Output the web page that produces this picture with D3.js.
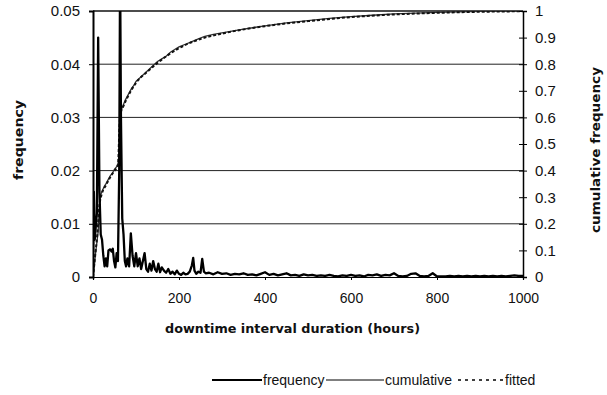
<!DOCTYPE html>
<html>
<head>
<meta charset="utf-8">
<script src="https://cdn.jsdelivr.net/npm/d3@7"></script>
<style>
    body { margin: 0; background: #fff; }
    svg { display: block; }
    .tick text { font-family: "Liberation Sans", Arial, sans-serif; font-size: 15px; fill: #111; }
    .title { font-family: "DejaVu Sans", sans-serif; font-weight: bold; font-size: 13px; fill: #111; }
    .legend { font-family: "Liberation Sans", Arial, sans-serif; font-size: 14px; fill: #111; }
</style>
</head>
<body>
<svg id="chart"></svg>
<script>

// Frequency histogram (hours, frequency)
const freqHours = [0, 2, 4, 6, 9, 12, 15, 18, 21, 24, 27, 30, 33, 36, 40, 43, 46, 49, 52, 55, 58, 61, 63, 65, 68, 71, 74, 77, 80, 84,
    88, 92, 96, 100, 104, 108, 112, 116, 120, 124, 128, 132, 136, 140, 144, 148, 152, 156, 160, 165, 170, 175, 180, 185, 190, 195,
    200, 205, 210, 215, 220, 225, 230, 233, 236, 240, 245, 250, 254, 258, 262,
    270, 280, 290, 300, 310, 320, 330, 340, 350, 360, 370, 380, 390, 400, 410, 420, 430, 440, 450, 460, 470, 480, 490, 500,
    510, 520, 530, 540, 550, 560, 570, 580, 590, 600, 610, 620, 630, 640, 650, 660, 670, 680, 690, 700, 710, 720, 730, 740, 750,
    760, 770, 780, 790, 800, 810, 820, 830, 840, 850, 860, 870, 880, 890, 900, 910, 920, 930, 940, 950, 960, 970, 980, 990, 1000];
const freqValues = [0.004, 0.016, 0.007, 0.009, 0.012, 0.045, 0.016, 0.008, 0.007, 0.004, 0.002, 0.0035, 0.002, 0.005, 0.0052, 0.0048, 0.0053, 0.003, 0.0018, 0.0045, 0.003, 0.02, 0.058, 0.03, 0.011, 0.008, 0.003, 0.002, 0.0035, 0.002,
    0.0082, 0.004, 0.002, 0.0045, 0.002, 0.0035, 0.0015, 0.003, 0.0045, 0.0015, 0.001, 0.0025, 0.0012, 0.003, 0.0015, 0.001, 0.0025, 0.0009, 0.0018, 0.0012, 0.0008, 0.0015, 0.0006, 0.001, 0.0005, 0.0012,
    0.0006, 0.0004, 0.0008, 0.0005, 0.0006, 0.001, 0.0022, 0.0036, 0.0012, 0.0006, 0.001, 0.0008, 0.0034, 0.001, 0.0007,
    0.0008, 0.0005, 0.0009, 0.0006, 0.0007, 0.0004, 0.0006, 0.0005, 0.0007, 0.0004, 0.0005, 0.0003, 0.0006, 0.0009, 0.0004, 0.0006, 0.0003, 0.0005, 0.0007, 0.0003, 0.0004, 0.0002, 0.0005, 0.0003,
    0.0004, 0.0002, 0.0003, 0.0002, 0.0004, 0.0002, 0.0001, 0.0003, 0.0002, 0.0004, 0.0002, 0.0003, 0.0001, 0.0004, 0.0003, 0.0005, 0.0002, 0.0004, 0.0003, 0.0007, 0.0002, 0.0001, 0.0002, 0.0006, 0.0007,
    0.0002, 0.0001, 0.0002, 0.0007, 0.0001, 0.0001, 0.0001, 0.0002, 0.0001, 0.0002, 0.0001, 0.0002, 0.0001, 0.0002, 0.0001, 0.0002, 0.0001, 0.0002, 0.0001, 0.0002, 0.0001, 0.0002, 0.0003, 0.0002, 0.0002];

// Cumulative frequency (right axis)
const cumHours = [0, 3, 6, 9, 12, 14, 16, 18, 22, 26, 30, 35, 40, 45, 50, 55, 59, 61, 63, 66, 70, 75, 80, 85, 90, 95, 100,
    110, 120, 130, 140, 150, 160, 170, 180, 190, 200, 215, 230, 245, 260, 280, 300, 350, 400, 450, 500, 550, 600, 650, 700,
    750, 800, 850, 900, 950, 1000];
const cumValues = [0, 0.04, 0.09, 0.13, 0.17, 0.24, 0.29, 0.31, 0.325, 0.34, 0.35, 0.365, 0.38, 0.39, 0.405, 0.415, 0.43, 0.5, 0.6, 0.63, 0.645, 0.665, 0.68, 0.695, 0.71, 0.72, 0.735,
    0.75, 0.765, 0.78, 0.795, 0.81, 0.82, 0.83, 0.845, 0.855, 0.865, 0.875, 0.885, 0.895, 0.905, 0.912, 0.918, 0.932, 0.944, 0.955, 0.964, 0.972, 0.979, 0.984, 0.989,
    0.992, 0.995, 0.997, 0.999, 1, 1];

// Fitted distribution (right axis)
const fitHours = [0, 5, 10, 15, 20, 30, 40, 50, 58, 62, 65, 70, 80, 90, 100, 125, 150, 175, 200, 250, 300, 400, 500, 600, 700, 800, 900, 1000];
const fitValues = [0, 0.08, 0.16, 0.27, 0.31, 0.345, 0.375, 0.4, 0.42, 0.58, 0.62, 0.64, 0.675, 0.705, 0.73, 0.77, 0.805, 0.835, 0.86, 0.895, 0.915, 0.943, 0.962, 0.977, 0.987, 0.993, 0.997, 0.999];

// Tick values
const xTicks = [0, 200, 400, 600, 800, 1000];
const yLeftTicks = [0, 0.01, 0.02, 0.03, 0.04, 0.05];
const yRightTicks = [0, 0.1, 0.2, 0.3, 0.4, 0.5, 0.6, 0.7, 0.8, 0.9, 1];
const gridTicks = [0.01, 0.02, 0.03, 0.04];

const width = 607, height = 395;
const plot = { left: 93, right: 523, top: 11, bottom: 277 };

const svg = d3.select("#chart").attr("width", width).attr("height", height);

const x = d3.scaleLinear().domain([0, 1000]).range([plot.left, plot.right]);
const yL = d3.scaleLinear().domain([0, 0.05]).range([plot.bottom, plot.top]);
const yR = d3.scaleLinear().domain([0, 1]).range([plot.bottom, plot.top]);

// Clip so the tall spike stops at the frame
svg.append("clipPath").attr("id", "plotClip")
    .append("rect")
    .attr("x", plot.left).attr("y", plot.top)
    .attr("width", plot.right - plot.left).attr("height", plot.bottom - plot.top);

// Gridlines
svg.append("g").selectAll("line")
    .data(gridTicks)
    .enter().append("line")
    .attr("x1", plot.left).attr("x2", plot.right)
    .attr("y1", d => yL(d)).attr("y2", d => yL(d))
    .attr("stroke", "#222").attr("stroke-width", 1);

// Top frame
svg.append("line")
    .attr("x1", plot.left).attr("x2", plot.right)
    .attr("y1", yL(0.05)).attr("y2", yL(0.05))
    .attr("stroke", "#111").attr("stroke-width", 1.5);

const g = svg.append("g").attr("clip-path", "url(#plotClip)");

// Cumulative (thin solid) and fitted (dashed)
g.append("path")
    .datum(cumHours.map((h, i) => [h, cumValues[i]]))
    .attr("d", d3.line().x(d => x(d[0])).y(d => yR(d[1])))
    .attr("fill", "none").attr("stroke", "#333").attr("stroke-width", 1.3);

g.append("path")
    .datum(fitHours.map((h, i) => [h, fitValues[i]]))
    .attr("d", d3.line().curve(d3.curveMonotoneX).x(d => x(d[0])).y(d => yR(d[1])))
    .attr("fill", "none").attr("stroke", "#111").attr("stroke-width", 2)
    .attr("stroke-dasharray", "3,2");

// Frequency (thick solid)
g.append("path")
    .datum(freqHours.map((h, i) => [h, freqValues[i]]))
    .attr("d", d3.line().x(d => x(d[0])).y(d => yL(d[1])))
    .attr("fill", "none").attr("stroke", "#000").attr("stroke-width", 2.3)
    .attr("stroke-linejoin", "round");

// Axes
const fmtLeft = d => d === 0 ? "0" : d3.format(".2f")(d);
const fmtRight = d => (d === 0 || d === 1) ? String(d) : d3.format(".1f")(d);

const axL = svg.append("g")
    .attr("transform", `translate(${plot.left},0)`)
    .call(d3.axisLeft(yL).tickValues(yLeftTicks).tickFormat(fmtLeft).tickSizeOuter(0).tickSize(4).tickPadding(9));
axL.select(".domain").attr("stroke", "#000").attr("stroke-width", 2);

const axR = svg.append("g")
    .attr("transform", `translate(${plot.right},0)`)
    .call(d3.axisRight(yR).tickValues(yRightTicks).tickFormat(fmtRight).tickSizeOuter(0).tickSize(4));
axR.select(".domain").attr("stroke", "#000").attr("stroke-width", 1.5);
axR.selectAll(".tick line").attr("x1", -4).attr("x2", 4);
axR.selectAll(".tick text").attr("x", 12);

const axB = svg.append("g")
    .attr("transform", `translate(0,${plot.bottom})`)
    .call(d3.axisBottom(x).tickValues(xTicks).tickFormat(d3.format("d")).tickSizeOuter(0).tickSize(3).tickPadding(13));
axB.select(".domain").attr("stroke", "#000").attr("stroke-width", 1.2);
axB.selectAll(".tick text").style("font-size", "14px");

// Axis titles
svg.append("text").attr("class", "title")
    .attr("x", 165).attr("y", 333)
    .attr("textLength", 255).attr("lengthAdjust", "spacingAndGlyphs")
    .text("downtime interval duration (hours)");

svg.append("text").attr("class", "title")
    .attr("transform", "translate(23,140) rotate(-90)")
    .attr("text-anchor", "middle")
    .attr("textLength", 80).attr("lengthAdjust", "spacingAndGlyphs")
    .text("frequency");

svg.append("text").attr("class", "title")
    .attr("transform", "translate(600,150) rotate(-90)")
    .attr("text-anchor", "middle")
    .attr("textLength", 166).attr("lengthAdjust", "spacingAndGlyphs")
    .text("cumulative frequency");

// Legend
const legendY = 380;
const legendItems = [
    { label: "frequency", x1: 212, x2: 262, tx: 263, width: 2.2, dash: null },
    { label: "cumulative", x1: 326, x2: 384, tx: 385, width: 1, dash: null },
    { label: "fitted", x1: 458, x2: 503, tx: 505, width: 1.5, dash: "3,4" }
];
const lg = svg.append("g").selectAll("g").data(legendItems).enter().append("g");
lg.append("line")
    .attr("x1", d => d.x1).attr("x2", d => d.x2)
    .attr("y1", legendY).attr("y2", legendY)
    .attr("stroke", "#000").attr("stroke-width", d => d.width)
    .attr("stroke-dasharray", d => d.dash);
lg.append("text").attr("class", "legend")
    .attr("x", d => d.tx).attr("y", legendY + 5)
    .text(d => d.label);

</script>
</body>
</html>
